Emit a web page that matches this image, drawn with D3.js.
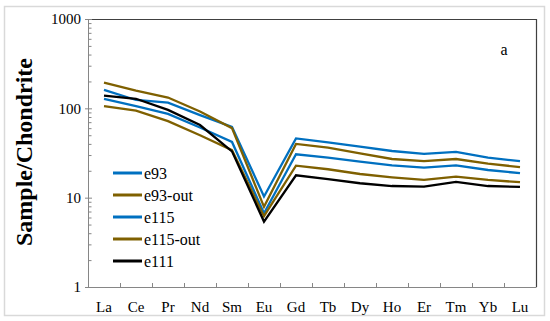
<!DOCTYPE html>
<html lang="en">
<head>
    <meta charset="UTF-8">
    <title>REE Chondrite Plot</title>
    <style>
    html, body {
        margin: 0;
        padding: 0;
        background-color: white;
    }

    svg {
        display: block;
    }

    svg text {
        font-family: "Liberation Serif", "Times New Roman", Times, "DejaVu Serif", serif !important;
    }

    .axis path, .axis line {
        stroke: #868686;
    }

    .axis text {
        font-size: 15px;
        fill: black;
    }

    .series {
        fill: none;
        stroke-width: 2.3;
        stroke-linejoin: miter;
    }
    </style>
    <script src="https://d3js.org/d3.v7.min.js"></script>
</head>
<body>
    <svg id='canvas'></svg>

    <script>
    // Data
    let elements = ['La', 'Ce', 'Pr', 'Nd', 'Sm', 'Eu', 'Gd', 'Tb', 'Dy', 'Ho', 'Er', 'Tm', 'Yb', 'Lu'];
    let seriesNames = ['e93', 'e93-out', 'e115', 'e115-out', 'e111'];
    let seriesColors = ['#0070c0', '#7f6000', '#0070c0', '#7f6000', '#000000'];

    let e93     = [161, 124, 116, 84, 62, 10.3, 46, 41.7, 37.2, 33.3, 30.9, 32.5, 28, 25.6];
    let e93out  = [194, 158, 132, 92, 60, 7.9, 40, 36.3, 31.4, 27.1, 25.6, 27.1, 24, 22];
    let e115    = [128, 106, 86.5, 61, 42, 6.7, 30.6, 28, 25.3, 23, 21.7, 23, 20.4, 18.8];
    let e115out = [106, 94, 72, 50, 34, 6.2, 22.8, 20.8, 18.4, 16.9, 15.8, 17.2, 15.8, 14.9];
    let e111    = [139, 128, 96, 65, 33, 5.4, 17.8, 16.1, 14.5, 13.5, 13.3, 15, 13.5, 13.2];

    let yTicks = [1, 10, 100, 1000];

    let allSeries = [e93, e93out, e115, e115out, e111];

    // Layout
    let width = 550;
    let height = 321;
    let plotLeft = 88;
    let plotRight = 536;
    let plotTop = 19;
    let plotBottom = 287;

    let svg = d3.select('svg')
        .attr('width', width)
        .attr('height', height);

    // Outer frame
    svg.append('rect')
        .attr('x', 4.5)
        .attr('y', 6.5)
        .attr('width', 540)
        .attr('height', 309)
        .attr('fill', 'white')
        .attr('stroke', '#d9d9d9')
        .attr('stroke-width', 1.5);

    // Scales
    let xScale = d3.scaleBand()
        .domain(elements)
        .range([plotLeft, plotRight]);

    let xEdges = d3.scaleLinear()
        .domain([0, elements.length])
        .range([plotLeft, plotRight]);

    let yScale = d3.scaleLog()
        .domain([1, 1000])
        .range([plotBottom, plotTop]);

    // Top and right border of plot area
    svg.append('path')
        .attr('d', 'M' + plotLeft + ',' + (plotTop + 0.5) + 'H' + (plotRight + 0.5) + 'V' + plotBottom)
        .attr('fill', 'none')
        .attr('stroke', '#404040')
        .attr('stroke-width', 1.2);

    // Minor y ticks
    let minorTicks = [];
    for (let d = 1; d < 1000; d *= 10) {
        for (let k = 2; k <= 9; k++) minorTicks.push(d * k);
    }

    svg.append('g')
        .attr('class', 'axis')
        .attr('transform', 'translate(' + plotLeft + ',0)')
        .call(d3.axisLeft(yScale).tickValues(minorTicks).tickSize(-3.5).tickFormat(''))
        .call(g => g.select('.domain').remove());

    // Major y axis
    svg.append('g')
        .attr('class', 'axis')
        .attr('id', 'y-axis')
        .attr('transform', 'translate(' + plotLeft + ',0)')
        .call(d3.axisLeft(yScale).tickValues(yTicks).tickSizeInner(3).tickSizeOuter(0).tickPadding(4)
            .tickFormat(d3.format('d')))
        .call(g => g.selectAll('.tick line').attr('x2', 4).attr('x1', -3));

    // x axis: boundary ticks
    svg.append('g')
        .attr('class', 'axis')
        .attr('transform', 'translate(0,' + plotBottom + ')')
        .call(d3.axisBottom(xEdges).tickValues(d3.range(1, elements.length)).tickSize(-4).tickSizeOuter(0).tickFormat(''));

    // x axis labels
    svg.append('g')
        .attr('class', 'axis')
        .attr('id', 'x-axis')
        .attr('transform', 'translate(0,' + plotBottom + ')')
        .call(d3.axisBottom(xScale).tickSize(0).tickPadding(14))
        .call(g => g.select('.domain').remove());

    // Lines
    let line = d3.line()
        .x((d, i) => xScale(elements[i]) + xScale.bandwidth() / 2)
        .y(d => yScale(d));

    svg.selectAll('.series')
        .data(allSeries)
        .enter()
        .append('path')
        .attr('class', 'series')
        .attr('stroke', (d, i) => seriesColors[i])
        .attr('d', line);

    // Legend
    let legend = svg.append('g')
        .attr('transform', 'translate(113,173)');

    seriesNames.forEach((name, i) => {
        let row = legend.append('g')
            .attr('transform', 'translate(0,' + (i * 22) + ')');
        row.append('line')
            .attr('x1', 0)
            .attr('x2', 29)
            .attr('stroke', seriesColors[i])
            .attr('stroke-width', 3);
        row.append('text')
            .attr('x', 31)
            .attr('dy', '0.35em')
            .attr('font-size', 16)
            .text(name);
    });

    // Panel letter
    svg.append('text')
        .attr('x', 504)
        .attr('y', 55)
        .attr('text-anchor', 'middle')
        .attr('font-size', 16)
        .text('a');

    // Y label
    svg.append('text')
        .attr('transform', 'translate(32,152) rotate(-90)')
        .attr('text-anchor', 'middle')
        .attr('font-size', 24)
        .attr('font-weight', 'bold')
        .text('Sample/Chondrite');
    </script>
</body>
</html>
